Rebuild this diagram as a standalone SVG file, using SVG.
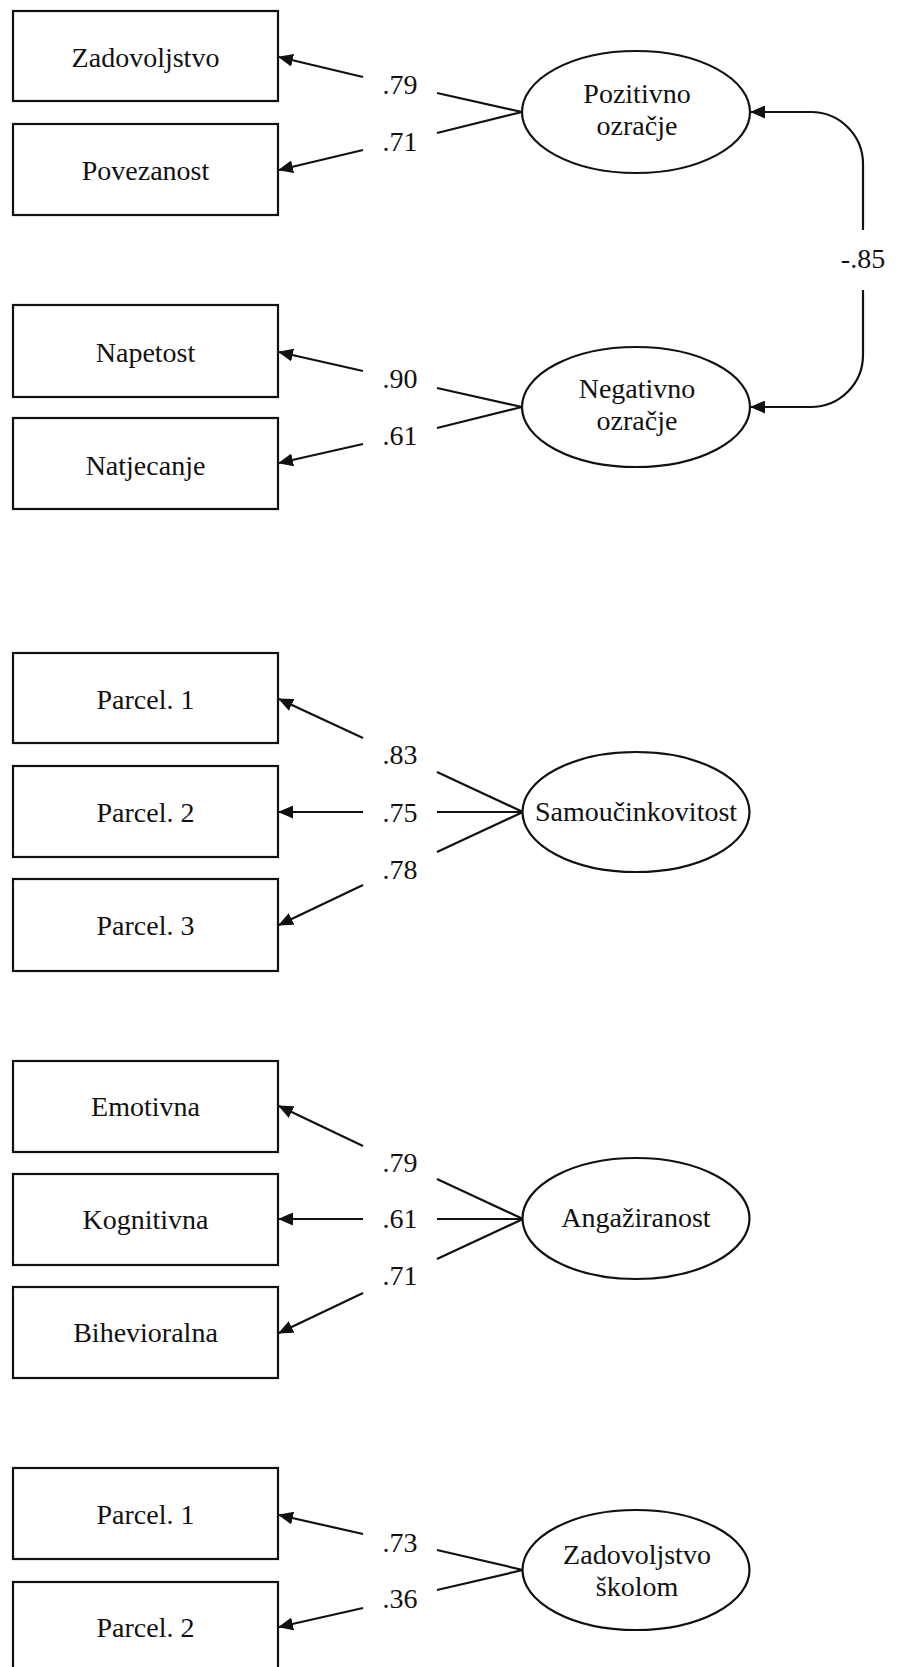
<svg xmlns="http://www.w3.org/2000/svg" width="897" height="1667" viewBox="0 0 897 1667">
<style>
  .box { fill: #fff; stroke: #111; stroke-width: 2.2; }
  .lat { fill: #fff; stroke: #111; stroke-width: 2.2; }
  .t { font-family: "Liberation Serif", "Times New Roman", serif; font-size: 28px; fill: #111; text-anchor: middle; }
  .c { fill: none; stroke: #111; stroke-width: 2.2; }
  .a { fill: none; stroke: #111; stroke-width: 2.2; marker-end: url(#ah); }
</style>
<defs>
  <marker id="ah" markerUnits="userSpaceOnUse" viewBox="0 0 15 13" refX="14" refY="6.5" markerWidth="15" markerHeight="13" orient="auto">
    <path d="M0,0 L15,6.5 L0,13 z" fill="#111"/>
  </marker>
</defs>
<rect width="897" height="1667" fill="#fff"/>

<g id="connectors">
  <!-- Pozitivno -->
  <line class="a" x1="363" y1="77" x2="279" y2="57"/>
  <line class="a" x1="363" y1="150" x2="279" y2="170"/>
  <line class="c" x1="437" y1="93" x2="522" y2="112"/>
  <line class="c" x1="437" y1="133" x2="522" y2="112"/>
  <text class="t" x="400" y="94">.79</text>
  <text class="t" x="400" y="151">.71</text>
  <!-- Negativno -->
  <line class="a" x1="363" y1="371" x2="279" y2="352"/>
  <line class="a" x1="363" y1="444" x2="279" y2="463"/>
  <line class="c" x1="437" y1="388" x2="522" y2="407"/>
  <line class="c" x1="437" y1="428" x2="522" y2="407"/>
  <text class="t" x="400" y="388">.90</text>
  <text class="t" x="400" y="445">.61</text>
  <!-- correlation -->
  <path class="a" d="M863,230 V164 A52,52 0 0 0 811,112 H751"/>
  <path class="a" d="M863,290 V355 A52,52 0 0 1 811,407 H751"/>
  <text class="t" x="863" y="268">-.85</text>
  <!-- Samoucinkovitost -->
  <line class="a" x1="363" y1="738" x2="279" y2="699"/>
  <line class="a" x1="363" y1="812" x2="279" y2="812"/>
  <line class="a" x1="363" y1="885" x2="279" y2="925"/>
  <line class="c" x1="437" y1="772" x2="523" y2="812"/>
  <line class="c" x1="437" y1="812" x2="523" y2="812"/>
  <line class="c" x1="437" y1="852" x2="523" y2="812"/>
  <text class="t" x="400" y="764">.83</text>
  <text class="t" x="400" y="822">.75</text>
  <text class="t" x="400" y="879">.78</text>
  <!-- Angaziranost -->
  <line class="a" x1="363" y1="1146" x2="279" y2="1106"/>
  <line class="a" x1="363" y1="1219" x2="279" y2="1219"/>
  <line class="a" x1="363" y1="1293" x2="279" y2="1333"/>
  <line class="c" x1="437" y1="1179" x2="523" y2="1219"/>
  <line class="c" x1="437" y1="1219" x2="523" y2="1219"/>
  <line class="c" x1="437" y1="1259" x2="523" y2="1219"/>
  <text class="t" x="400" y="1172">.79</text>
  <text class="t" x="400" y="1228">.61</text>
  <text class="t" x="400" y="1285">.71</text>
  <!-- Zadovoljstvo skolom -->
  <line class="a" x1="363" y1="1534" x2="279" y2="1515"/>
  <line class="a" x1="363" y1="1608" x2="279" y2="1627"/>
  <line class="c" x1="437" y1="1550" x2="523" y2="1570"/>
  <line class="c" x1="437" y1="1590" x2="523" y2="1570"/>
  <text class="t" x="400" y="1552">.73</text>
  <text class="t" x="400" y="1608">.36</text>
</g>

<g id="n-zadovoljstvo"><rect class="box" x="13" y="11" width="265" height="90"/><text class="t" x="145.5" y="67">Zadovoljstvo</text></g>
<g id="n-povezanost"><rect class="box" x="13" y="124" width="265" height="91"/><text class="t" x="145.5" y="180">Povezanost</text></g>
<g id="n-napetost"><rect class="box" x="13" y="305" width="265" height="92"/><text class="t" x="145.5" y="362">Napetost</text></g>
<g id="n-natjecanje"><rect class="box" x="13" y="418" width="265" height="91"/><text class="t" x="145.5" y="475">Natjecanje</text></g>
<g id="n-pozitivno"><ellipse class="lat" cx="636" cy="112" rx="114" ry="61"/><text class="t" x="637" y="103">Pozitivno</text><text class="t" x="637" y="135">ozračje</text></g>
<g id="n-negativno"><ellipse class="lat" cx="636" cy="407" rx="114" ry="60"/><text class="t" x="637" y="398">Negativno</text><text class="t" x="637" y="430">ozračje</text></g>

<g id="n-s-parcel1"><rect class="box" x="13" y="653" width="265" height="90"/><text class="t" x="145.5" y="709">Parcel. 1</text></g>
<g id="n-s-parcel2"><rect class="box" x="13" y="766" width="265" height="91"/><text class="t" x="145.5" y="822">Parcel. 2</text></g>
<g id="n-s-parcel3"><rect class="box" x="13" y="879" width="265" height="92"/><text class="t" x="145.5" y="935">Parcel. 3</text></g>
<g id="n-samoucinkovitost"><ellipse class="lat" cx="636" cy="812" rx="113.5" ry="60"/><text class="t" x="636" y="821">Samoučinkovitost</text></g>

<g id="n-emotivna"><rect class="box" x="13" y="1061" width="265" height="91"/><text class="t" x="145.5" y="1116">Emotivna</text></g>
<g id="n-kognitivna"><rect class="box" x="13" y="1174" width="265" height="91"/><text class="t" x="145.5" y="1229">Kognitivna</text></g>
<g id="n-bihevioralna"><rect class="box" x="13" y="1287" width="265" height="91"/><text class="t" x="145.5" y="1342">Bihevioralna</text></g>
<g id="n-angaziranost"><ellipse class="lat" cx="636" cy="1218.5" rx="113.5" ry="60.5"/><text class="t" x="636" y="1227">Angažiranost</text></g>

<g id="n-z-parcel1"><rect class="box" x="13" y="1468" width="265" height="91"/><text class="t" x="145.5" y="1524">Parcel. 1</text></g>
<g id="n-z-parcel2"><rect class="box" x="13" y="1582" width="265" height="95"/><text class="t" x="145.5" y="1637">Parcel. 2</text></g>
<g id="n-zadovoljstvo-skolom"><ellipse class="lat" cx="636" cy="1570" rx="113.5" ry="60"/><text class="t" x="637" y="1564">Zadovoljstvo</text><text class="t" x="637" y="1596">školom</text></g>
</svg>
